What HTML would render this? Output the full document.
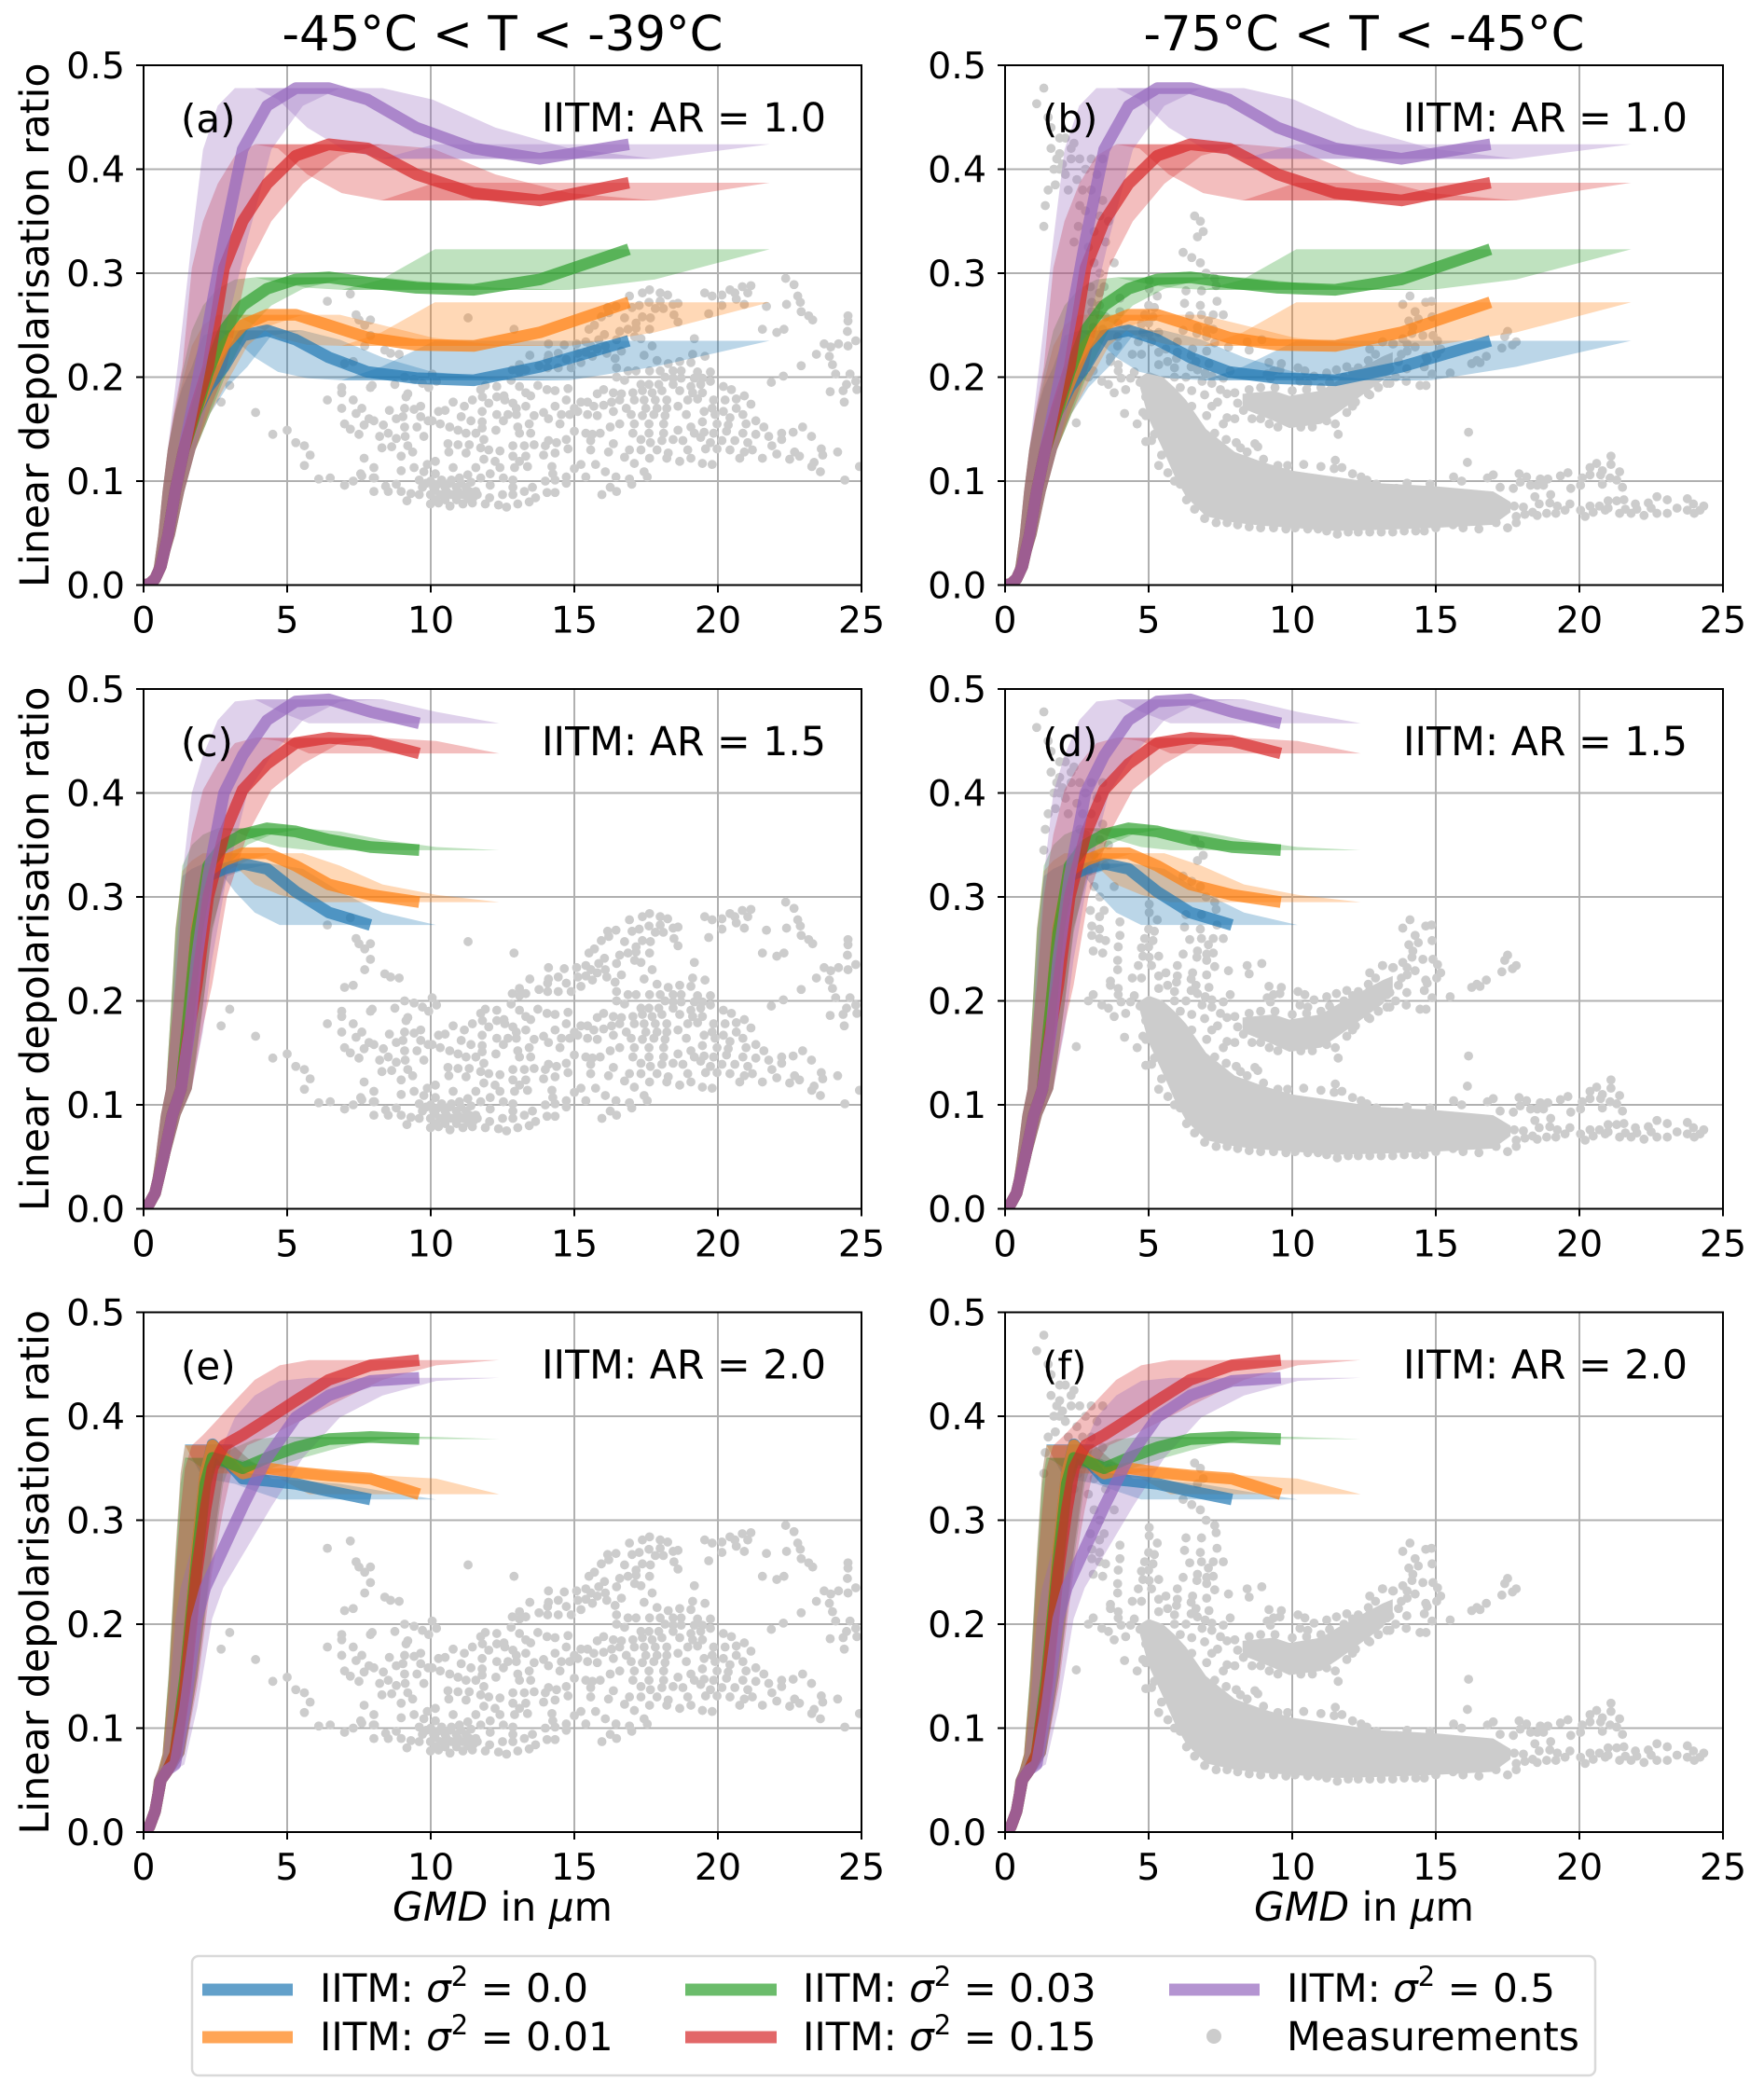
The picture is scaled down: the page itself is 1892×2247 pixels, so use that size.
<!DOCTYPE html>
<html>
<head>
<meta charset="utf-8">
<title>Linear depolarisation ratio versus GMD</title>
<style>
html,body{margin:0;padding:0;background:#fff}
svg{display:block}
text{font-family:"DejaVu Sans","Liberation Sans",sans-serif;fill:#000}
</style>
</head>
<body>
<svg id="chart" xmlns="http://www.w3.org/2000/svg" width="1892" height="2247" viewBox="0 0 1892 2247">
<rect width="1892" height="2247" fill="#fff"/>
<g id="panels"></g>
<g>
<rect x="206" y="2098" width="1505" height="128" rx="7" fill="#fff" stroke="#d9d9d9" stroke-width="2.5"/>
<g><line x1="217" x2="314" y1="2134" y2="2134" stroke="#1f77b4" stroke-opacity=".7" stroke-width="13"/><text x="343" y="2147" font-size="42">IITM: <tspan font-style="italic">σ</tspan><tspan dy="-17" font-size="29">2</tspan><tspan dy="17"> = 0.0</tspan></text></g>
<g><line x1="217" x2="314" y1="2185" y2="2185" stroke="#ff7f0e" stroke-opacity=".7" stroke-width="13"/><text x="343" y="2199" font-size="42">IITM: <tspan font-style="italic">σ</tspan><tspan dy="-17" font-size="29">2</tspan><tspan dy="17"> = 0.01</tspan></text></g>
<g><line x1="735" x2="833" y1="2134" y2="2134" stroke="#2ca02c" stroke-opacity=".7" stroke-width="13"/><text x="861" y="2147" font-size="42">IITM: <tspan font-style="italic">σ</tspan><tspan dy="-17" font-size="29">2</tspan><tspan dy="17"> = 0.03</tspan></text></g>
<g><line x1="735" x2="833" y1="2185" y2="2185" stroke="#d62728" stroke-opacity=".7" stroke-width="13"/><text x="861" y="2199" font-size="42">IITM: <tspan font-style="italic">σ</tspan><tspan dy="-17" font-size="29">2</tspan><tspan dy="17"> = 0.15</tspan></text></g>
<g><line x1="1254" x2="1351" y1="2134" y2="2134" stroke="#9467bd" stroke-opacity=".7" stroke-width="13"/><text x="1380" y="2147" font-size="42">IITM: <tspan font-style="italic">σ</tspan><tspan dy="-17" font-size="29">2</tspan><tspan dy="17"> = 0.5</tspan></text></g>
<g><circle cx="1302" cy="2184" r="8" fill="#cccccc"/><text x="1380" y="2199" font-size="42.5">Measurements</text></g>
</g>
</svg>
<script>
// ---- tick labels ----
const xTickValues = [0, 5, 10, 15, 20, 25];
const yTickValues = [0, 0.1, 0.2, 0.3, 0.4, 0.5];
const yTickLabels = ["0.0", "0.1", "0.2", "0.3", "0.4", "0.5"];
const columnTitles = ["-45°C < T < -39°C", "-75°C < T < -45°C"];
const panelLetters = ["(a)", "(b)", "(c)", "(d)", "(e)", "(f)"];
const arLabels = ["IITM: AR = 1.0", "IITM: AR = 1.5", "IITM: AR = 2.0"];
const seriesNames = ["sigma-0-0", "sigma-0-01", "sigma-0-03", "sigma-0-15", "sigma-0-5"];

// ---- modelled curves: GMD grids ----
const gmdAr10 = [0, .2, .4, .6, .85, 1.1, 1.4, 1.8, 2.25, 2.8, 3.45, 4.3, 5.3, 6.45, 7.8, 9.5, 11.5, 13.8, 16.9];
const gmdAr15 = [0, .2, .4, .7, 1.0, 1.3, 1.6, 1.85, 2.25, 2.8, 3.45, 4.3, 5.3, 6.45, 7.9, 9.6];
const gmdAr20 = [0, .2, .4, .6, .85, 1.1, 1.45, 1.85, 2.15, 2.4, 2.8, 3.45, 4.3, 5.3, 6.45, 7.9, 9.6];

// ---- AR 1.0 ----
const ar10Blue = [0, .001, .006, .018, .048, .09, .13, .165, .19, .21, .24, .245, .236, .219, .205, .199, .197, .21, .235];
const ar10Orange = [0, .001, .006, .018, .048, .09, .13, .165, .195, .23, .25, .26, .26, .25, .238, .231, .23, .243, .272];
const ar10Green = [0, .001, .006, .018, .048, .09, .13, .165, .205, .245, .269, .285, .294, .296, .291, .286, .284, .294, .323];
const ar10Red = [0, .001, .006, .018, .048, .09, .13, .17, .21, .305, .35, .386, .413, .424, .42, .395, .377, .37, .387];
const ar10Purple = [0, .001, .006, .018, .048, .09, .13, .185, .25, .332, .419, .461, .478, .478, .467, .44, .42, .41, .424];

// ---- AR 1.5 ----
const ar15Blue = [0, .005, .015, .05, .09, .115, .195, .27, .32, .327, .332, .327, .305, .285, .273];
const ar15Orange = [0, .005, .015, .05, .09, .115, .195, .27, .325, .335, .342, .342, .33, .312, .302, .295];
const ar15Green = [0, .005, .015, .05, .09, .115, .195, .265, .33, .35, .36, .366, .363, .355, .348, .345];
const ar15Red = [0, .005, .015, .05, .09, .115, .175, .215, .3, .36, .403, .428, .448, .453, .45, .438];
const ar15Purple = [0, .005, .015, .05, .09, .115, .17, .24, .32, .4, .436, .47, .488, .49, .478, .467];

// ---- AR 2.0 ----
const ar20Blue = [0, .005, .02, .05, .06, .075, .15, .27, .345, .373, .36, .34, .338, .335, .328, .32];
const ar20Orange = [0, .005, .02, .05, .06, .075, .15, .27, .345, .372, .36, .345, .35, .346, .343, .34, .325];
const ar20Green = [0, .005, .02, .05, .06, .075, .15, .26, .335, .36, .357, .35, .36, .37, .378, .38, .378];
const ar20Red = [0, .005, .02, .05, .06, .075, .14, .25, .31, .35, .372, .382, .397, .415, .435, .449, .454];
const ar20Purple = [0, .005, .02, .05, .06, .065, .12, .205, .235, .25, .274, .313, .36, .399, .42, .434, .437];

// ---- shaded uncertainty factors on GMD ----
const shadeLowFactor = [0.6];
const shadeHighFactor = [1.29];

// ---- measurements, -45 to -39 C ---- [GMD, depolarisation]
const measLeft = [
[2.7,.176],[3,.192],[3.9,.166],[4.5,.145],[5,.149],[5.3,.137],[5.6,.134],[5.8,.125],[5.6,.115],[6.1,.102],[6.5,.103],[7,.096],[7.3,.1],[7.6,.105],[8,.103],
[6.4,.273],[7.2,.28],[7.4,.26],[7.5,.255],[7.7,.25],[7.9,.255],[7.9,.24],[7.7,.23],[8.4,.226],[8.6,.223],[8.9,.222],[7,.213],[7.3,.215],[6.9,.19],[6.9,.185],[7.9,.19],[6.4,.178],[6.9,.17],[7.3,.178],[7.4,.165],[7.6,.17],[7,.155],[7.2,.15],[7.5,.145],[11.3,.257],[12.9,.246],
[16.92,.278],[17.37,.281],[17.62,.284],[17.99,.281],[18.25,.279],[17.99,.273],[17.6,.272],[17.26,.269],[17.01,.267],[18.61,.271],[18.44,.27],[17.82,.266],[18.1,.266],[16.45,.268],[16.16,.267],[16.2,.262],[15.94,.258],[16.75,.257],[17.37,.258],[17.65,.257],[18.47,.26],[18.61,.253],[17.15,.252],[15.7,.25],[15.51,.246],[16.58,.244],[16.87,.246],[17.15,.247],[17.62,.246],[17.1,.239],[17.32,.237],[19.18,.237],[16.05,.241],[16.47,.236],[15.85,.236],[15.4,.234],[14.1,.232],[14.65,.231],[15.08,.232],[15.58,.23],[15.8,.227],[16.08,.23],[15.4,.224],[15.12,.223],[15.63,.22],[16.13,.223],[14.44,.223],[14.1,.221],[14.72,.217],[14.07,.217],[13.45,.221],[15.23,.214],[14.89,.209],[14.44,.209],[14.07,.209],[13.77,.211],[13.09,.212],[12.84,.207],[13.31,.207],[13.09,.205],[12.8,.197],[17.71,.23],[17.43,.221],[16.64,.225],[16.42,.218],[19.12,.222],[19.55,.22],[17.88,.216],[18.67,.215],[19.06,.214],[18.27,.213],[16.47,.209],
[19.54,.281],[19.8,.278],[20.14,.279],[20.42,.284],[20.59,.281],[20.85,.287],[21.15,.288],[21.04,.281],[20.64,.275],[20.14,.269],[20.92,.27],[19.68,.261],[21.69,.268],[22.36,.295],[22.65,.289],[22.78,.278],[22.87,.272],[22.39,.27],[22.9,.263],[23.16,.259],[23.3,.255],[21.55,.246],[22.05,.243],[22.3,.246],[24.53,.259],[24.53,.254],[24.51,.244],[23.7,.232],[23.93,.229],[24.2,.232],[24.53,.23],[24.8,.235],[23.43,.222],[23.88,.22],[23.99,.212],[22.9,.211],[24.1,.203],[24.6,.203],[24.8,.196],[24.48,.193],[23.91,.186],[24.36,.187],[24.84,.188],[24.4,.176],[22.28,.201],[21.86,.195],
[16.87,.206],[17.15,.206],[17.62,.206],[17.99,.206],[18.44,.206],[18.72,.206],[19.29,.205],[19.74,.205],[16.47,.2],[16.75,.197],[18.16,.2],[18.44,.199],[18.72,.199],[19.18,.199],[19.46,.199],[19.74,.196],[17.32,.193],[17.6,.193],[17.94,.193],[18.44,.193],[19.06,.191],[19.4,.193],
[17.04,.185],[17.37,.187],[17.71,.185],[18.05,.187],[18.67,.187],[19.12,.185],[19.46,.185],[20.19,.191],[20.47,.188],[20.92,.182],[17.09,.178],[17.43,.178],[17.82,.178],[18.22,.178],[18.95,.178],[19.29,.179],[19.85,.178],[20.25,.178],[20.64,.179],
[15.8,.184],[16.02,.188],[16.36,.185],[16.64,.184],[17.49,.17],[17.88,.17],[18.22,.17],[18.61,.172],[19.8,.17],[20.19,.167],[20.64,.17],[21.15,.174],
[15,.17],[15.23,.176],[15.46,.176],[15.68,.172],[16.02,.173],[16.3,.176],[16.58,.178],[16.81,.17],[16.98,.164],[17.37,.163],[17.77,.164],[18.16,.163],[18.9,.164],[19.52,.167],[19.9,.164],[20.42,.161],[20.87,.164],
[14.55,.164],[14.84,.164],[15.12,.167],[15.46,.164],[15.8,.163],[16.36,.167],[16.58,.155],[16.25,.152],[17.09,.155],[17.6,.155],[18.11,.155],[18.61,.149],[19.06,.152],[19.46,.157],[19.97,.155],[20.36,.154],[20.98,.155],[21.32,.158],
[14.5,.155],[15,.148],[15.4,.146],[15.63,.145],[15.9,.146],[17.04,.146],[17.6,.146],[18.11,.146],[19.18,.146],[19.52,.147],[19.85,.146],[20.3,.148],[20.87,.146],[21.6,.152],[21.32,.145],[21.77,.143],[22.22,.146],[22.62,.147],[22.95,.152],[23.26,.143],
[14.1,.139],[14.38,.137],[14.72,.14],[15.57,.139],[16.36,.136],[17.32,.14],[17.65,.137],[18.05,.139],[18.44,.14],[18.78,.139],[19.4,.142],[19.74,.137],[20.14,.139],[20.59,.139],[21.04,.137],[22.22,.14],
[13.99,.134],[14.78,.131],[15.57,.13],[16.19,.128],[16.92,.13],[17.32,.13],[17.88,.13],[18.27,.127],[18.95,.13],[19.57,.131],[19.97,.131],[20.42,.13],[20.92,.128],[21.2,.13],[21.88,.134],[22.05,.126],[22.67,.128],[22.84,.124],[22.5,.121],[23.6,.131],[23.65,.125],[24.17,.128],[21.55,.122],
[16.75,.123],[17.62,.122],[18.22,.122],[18.67,.119],[19.06,.122],[17.09,.117],[19.46,.117],[19.8,.116],[20.76,.122],[23.35,.118],[23.27,.114],[23.57,.109],[24.42,.101],[24.93,.114],
[16.08,.109],[17.43,.109],[17.54,.104],[16.45,.104],[16.92,.102],[17,.097],[16.25,.094],[16.47,.09],[15.96,.087],[15.74,.116],[15.23,.116],[15,.112],[14.22,.114],[14.25,.107],[15.4,.104],[14.72,.104],[13.99,.1],[14.33,.101],[14.72,.098],[14.33,.089],[14.05,.089],[13.65,.084],[13.43,.08],[13.03,.078],[12.64,.075],[12.36,.077],[11.9,.078],[12.05,.084],[12.5,.087],[12.86,.087],[13.26,.09],[13.54,.094],
[12.3,.191],[11.9,.192],[11.74,.188],[13.09,.191],[13.73,.192],[14.05,.188],[14.33,.187],[14.78,.189],[14.72,.178],[14.33,.172],[11.45,.178],[11.8,.181],[12.02,.175],[12.3,.181],[12.55,.182],[12.86,.175],[13.31,.185],[13.48,.182],[13.31,.172],[12.98,.17],[12.58,.178],[13.93,.166],[13.6,.163],[14.1,.16],[12.3,.164],[12.69,.164],[12.53,.158],[12.98,.164],[13.43,.155],[13.03,.152],[11.79,.167],[11.17,.172],[10.78,.176],[11.06,.162],[11.4,.158],[11.79,.157],[11.79,.151],[12.27,.149],[11.57,.146],[11.23,.146],[13.09,.146],[13.48,.146],
[10.95,.149],[10.66,.152],[10.33,.155],[10.05,.158],[10.27,.167],[10.5,.168],[9.65,.172],[9.42,.169],[9.09,.17],[9.03,.162],[8.8,.16],[9.65,.162],[9.91,.158],
[9.09,.2],[9.42,.198],[9.71,.194],[9.93,.19],[10.05,.203],[10.2,.196],[8.75,.193],[7.96,.192],[9.14,.181],[9.2,.184],
[8.56,.168],[9.09,.152],[9.52,.152],[8.52,.146],[8.22,.143],[8.8,.141],[9.11,.143],[9.76,.143],[8.35,.154],[7.68,.154],[7.85,.16],[8.02,.158],[8.3,.132],[8.64,.133],[9.2,.134],[9.37,.128],[8.97,.124],[7.68,.122],[8.02,.113],[8.97,.11],[7.56,.107],[8.04,.103],
[10.6,.136],[10.95,.135],[11.34,.135],[10.63,.128],[11.23,.127],[11.85,.14],[11.74,.132],[12.02,.13],[12.41,.129],[12.86,.134],[13.26,.134],[13.6,.135],[13.93,.125],[14.33,.127],[12.86,.124],[13.31,.124],[11.85,.121],[12.24,.119],[13.09,.119],[11.57,.113],[12.41,.113],[12.92,.113],[13.37,.114],[12.07,.107],[11.74,.103],[12.53,.103],[12.86,.101],[12.07,.096],[12.86,.094],
[10.16,.119],[9.88,.116],[9.42,.113],[9.76,.109],[10.16,.107],[10.78,.113],[11.29,.106],[9.6,.101],[10,.1],[10.38,.101],[10.72,.101],[11,.103],[11.4,.099],[9.71,.094],[10.1,.094],[10.5,.094],[10.89,.094],[11.23,.094],[11.57,.09],[9.99,.087],[10.33,.087],[10.72,.087],[11.12,.087],[11.5,.085],[9.99,.078],[10.27,.079],[10.67,.076],[11.12,.078],[11.45,.079],[9.6,.087],[9.31,.088],[8.97,.09],[8.52,.09],[9.17,.081],[8.02,.09],[8.43,.095],[8.8,.097],[11.62,.087],[10.15,.082],[10.5,.082],[10.9,.082],[11.3,.083],[10.15,.091],[10.55,.09],[10.95,.09],[11.35,.09],[9.85,.098],[10.25,.097],[10.65,.098],[11.05,.098]
];

// ---- measurements, -75 to -45 C: solid envelopes of the densest groups ----
const denseBandGmd = [4.7, 5, 5.5, 5.9, 6.3, 7, 8, 9, 10, 11.5, 13, 15, 17, 17.6];
const denseBandLow = [.19, .16, .13, .105, .085, .066, .06, .057, .055, .052, .053, .055, .058, .07];
const denseBandHigh = [.2, .205, .2, .19, .178, .15, .128, .118, .11, .104, .098, .095, .09, .08];
const upperBandGmd = [8.27, 9.35, 9.9, 11, 11.6, 12.4, 13.15, 13.5];
const upperBandLow = [.17, .158, .151, .155, .166, .182, .197, .21];
const upperBandHigh = [.184, .187, .182, .187, .197, .209, .22, .224];

// ---- measurements, -75 to -45 C ---- [GMD, depolarisation]
const measRight = [
[1.35,.478],[1.1,.463],[1.5,.45],[1.6,.44],[1.9,.43],[2.1,.43],[2.4,.425],[1.6,.42],[1.9,.415],[2.3,.41],[2.6,.41],[3,.41],[1.7,.40],[2.1,.395],[2.5,.39],[1.5,.38],[1.75,.385],[2.2,.38],[2.7,.38],[3,.38],[1.4,.365],[2.8,.36],[3.4,.37],[1.35,.345],[2.4,.33],[2.55,.345],[3.1,.34],[3.5,.33],[3.8,.31],[1.8,.41],[2.0,.405],[2.8,.4],[3.2,.395],[3.4,.41],[1.9,.4],[2.3,.42],[2.6,.365],[3.6,.35],[3.3,.355],[2.9,.325],[3.1,.31],[3.3,.3],
[2.97,.287],[3.29,.281],[3.45,.287],[3.02,.272],[3.29,.269],[3.02,.263],[3.29,.26],[3.5,.258],[3.07,.248],[3.4,.246],[4,.276],[4,.263],[3.94,.252],[3.92,.239],[3.92,.23],[3.67,.219],[3.67,.215],[3.94,.212],[3.94,.206],[4.43,.222],[4.75,.222],[4.64,.234],[3.07,.206],[2.9,.2],[3.37,.196],[3.6,.193],[3.8,.185],[4.2,.188],[4.04,.199],[4.37,.199],[2.48,.156],[4.16,.165],[4.6,.155],[4.8,.166],[4.9,.163],[4.9,.181],[4.9,.138],[5.1,.139],[4.5,.205],[4.7,.195],[4.9,.19],[5.02,.175],[5.1,.165],
[5.02,.293],[5.02,.285],[5.3,.278],[5,.269],[5.2,.267],[4.86,.26],[5.15,.258],[4.75,.251],[5,.252],[4.8,.243],[5.35,.243],[5.02,.242],[5.1,.234],[5.6,.227],[5.35,.224],[5.66,.215],[5.35,.212],[5.9,.209],
[6.3,.283],[6.84,.283],[7.35,.288],[6.25,.271],[6.8,.269],[7.38,.273],[6.43,.259],[6.84,.26],[7.25,.26],[7.6,.26],[7.08,.254],[6.7,.248],[7.25,.246],[7.02,.245],[6.2,.245],[6.68,.242],[7.02,.239],[7.3,.233],[6,.234],[6.53,.227],[7.02,.225],[7.78,.229],[6,.224],[6.48,.221],[5.97,.218],[6.65,.215],[7.1,.213],[6.48,.21],[6.7,.207],[6.97,.204],[7.2,.201],[7.84,.206],[7.6,.199],
[6.6,.355],[6.8,.35],[6.7,.335],[6.9,.34],[6.2,.32],[6.5,.315],[6.8,.31],[7,.3],[7.3,.295],[8.43,.234],[8.94,.236],[8.5,.226],
[9.19,.214],[9.62,.213],[9.35,.206],[9.57,.207],[9.13,.203],[9.24,.199],[10.2,.209],[10.44,.206],[10.76,.201],[10.27,.196],[10.54,.194],[11.2,.204],[11.54,.207],[11.9,.21],[13.14,.234],[13.5,.232],[12.7,.227],[12.9,.222],[12.65,.216],[12.3,.209],[13.3,.206],[13.6,.2],[13,.19],[13.3,.194],[12.65,.184],[12.2,.176],
[7.4,.176],[7.73,.184],[7.5,.188],[6.86,.196],[7.2,.194],[6.3,.2],[7.73,.161],[8,.16],[7.6,.155],[7.02,.163],[7.2,.172],[6.95,.183],[6.5,.187],[8.1,.175],[8.0,.185],[8.3,.168],[8.6,.16],[8.9,.16],[9.2,.155],[9.5,.152],[10.3,.152],[10.7,.152],[11.2,.158],[11.5,.155],[11.9,.166],[12.1,.172],[8.5,.188],[8.9,.19],[9.4,.19],[10,.187],[10.5,.188],[11,.19],[11.3,.195],[11.8,.2],[12.1,.205],[12.7,.21],
[14.1,.278],[13.85,.27],[14.65,.272],[14.85,.273],[14.28,.263],[14.87,.258],[14.39,.256],[14.06,.254],[14.2,.248],[14.17,.242],[14.55,.24],[13.85,.237],[14.9,.24],[15.06,.235],[14,.232],[14.28,.229],[14,.225],[13.15,.234],[13.52,.232],[15.17,.227],[15.03,.222],[14.65,.22],[14.7,.217],[14.6,.21],[14.87,.203],[15.5,.204],[13.99,.208],[14.66,.192],[14.45,.192],[13.97,.196],[13.4,.194],[13,.19],[12.7,.183],[12.2,.176],[13.7,.215],[13.4,.208],[13.2,.215],[13.8,.222],
[16.25,.213],[16.43,.216],[16.54,.214],[16.76,.22],[17.3,.228],[17.4,.239],[17.5,.244],[17.67,.231],[17.8,.234],[16.14,.147],[16.1,.118],[11.6,.145],
[17,.106],[16.8,.103],[15.62,.104],[15.9,.1],[14.8,.097],[14,.098],[13.63,.093],[12.93,.097],[17.24,.094],[17.7,.093],[17.9,.107],[18.16,.104],[17.94,.099],[18.3,.096],[18.64,.102],[18.9,.102],[18.53,.096],[18.75,.096],[19.34,.105],[19.6,.108],[19.7,.093],[20.1,.103],[20.04,.096],[20.37,.106],[20.37,.113],[20.6,.117],[20.8,.11],[21.1,.124],[21.1,.116],[21.4,.109],[20.74,.106],[20.8,.097],[21.07,.103],[21.3,.101],[21.5,.094],
[17.5,.055],[17.8,.06],[17.8,.066],[18.05,.075],[17.73,.076],[18.45,.085],[19,.087],[18.6,.078],[18.37,.07],[18.53,.067],[18.86,.069],[18.97,.079],[19.23,.076],[19.18,.069],[19.5,.072],[19.67,.078],[20.04,.072],[20.2,.066],[20.37,.076],[20.48,.07],[20.7,.076],[20.9,.072],[21,.081],[21.3,.081],[21.55,.082],[21.4,.069],[21.6,.073],[21.8,.069],[22,.073],[22.25,.067],[22.4,.079],[22.7,.085],[22.7,.069],[23.06,.082],[23.06,.069],[23.4,.074],[23.76,.083],[23.76,.072],[23.97,.078],[24,.069],[24.33,.076],[24.2,.072],[18.1,.068],[21,.074],[21.95,.078],[22.5,.074],
[5.67,.133],[5.35,.115],[8.05,.137],[8.7,.136],[8.8,.133],[8.43,.128],[9,.121],[9.5,.115],[9.84,.115],[10.4,.116],[11,.114],[11.5,.12],[11.73,.113],[11.46,.112],[12.1,.107],[12.4,.104],[12.6,.101],[12.92,.097],[7.3,.146],[7.7,.14],[8.2,.132],[5.9,.2],[6.1,.19],[6.5,.172],
[5.67,.108],[6.1,.097],[6.32,.082],[6.6,.073],[6.95,.064],[7.35,.06],[7.73,.06],[8.1,.058],[8.5,.056],[8.9,.055],[9.35,.055],[9.78,.054],[10.1,.055],[10.54,.054],[10.9,.054],[11.2,.052],[11.57,.049],[11.95,.051],[12.3,.051],[12.7,.051],[13.1,.051],[13.5,.051],[13.9,.052],[14.3,.052],[14.6,.052],[15,.055],[15.6,.058],[15.95,.055],[16.5,.054],[17.1,.06],[5.2,.145],[5.45,.125],[5.9,.1]
];

// ---- layout (not data) ----
const axW = 770, axH = 557.5;
const colLeft = [154, 1078];
const rowTop = [70, 739, 1407.5];
const NS = "http://www.w3.org/2000/svg";
const root = document.getElementById("panels");

function mk(tag, attrs, parent, txt) {
  const n = document.createElementNS(NS, tag);
  for (const k in attrs) n.setAttribute(k, attrs[k]);
  if (txt !== undefined) n.textContent = txt;
  parent.appendChild(n);
  return n;
}

// Shade split into runs of monotonic y, so folded parts overlap and darken
function shadeRuns(vals) {
  const runs = [];
  let start = 0, dir = 0;
  for (let i = 1; i < vals.length; i++) {
    const d = Math.sign(vals[i] - vals[i - 1]);
    if (d !== 0) {
      if (dir !== 0 && d !== dir) { runs.push([start, i - 1]); start = i - 1; }
      dir = d;
    }
  }
  runs.push([start, vals.length - 1]);
  return runs;
}

const seriesColors = ["#1f77b4", "#ff7f0e", "#2ca02c", "#d62728", "#9467bd"];
const arSets = [
  { gmd: gmdAr10, series: [ar10Blue, ar10Orange, ar10Green, ar10Red, ar10Purple] },
  { gmd: gmdAr15, series: [ar15Blue, ar15Orange, ar15Green, ar15Red, ar15Purple] },
  { gmd: gmdAr20, series: [ar20Blue, ar20Orange, ar20Green, ar20Red, ar20Purple] }
];

for (let row = 0; row < 3; row++) {
  for (let col = 0; col < 2; col++) {
    const left = colLeft[col], top = rowTop[row], bottom = top + axH;
    const X = v => left + v / 25 * axW;
    const Y = v => bottom - v / 0.5 * axH;
    const idx = row * 2 + col;

    const panel = mk("g", {}, root);
    
    

    const clipId = "clip" + idx;
    const defs = mk("defs", {}, panel);
    const cp = mk("clipPath", { id: clipId }, defs);
    mk("rect", { x: left, y: top, width: axW, height: axH }, cp);

    // grid
    const grid = mk("g", { stroke: "#b0b0b0", "stroke-width": 2 }, panel);
    
    
    xTickValues.forEach(v => {
      const l = mk("line", { x1: X(v), x2: X(v), y1: top, y2: bottom }, grid);
      
      
    });
    yTickValues.forEach(v => {
      const l = mk("line", { x1: left, x2: left + axW, y1: Y(v), y2: Y(v) }, grid);
      
      
    });

    const plot = mk("g", { "clip-path": "url(#" + clipId + ")" }, panel);
    
    

    // measurements
    const pts = mk("g", { fill: "#cccccc" }, plot);
    
    
    if (col === 1) {
      const up = denseBandGmd.map((g, i) => X(g) + "," + Y(denseBandHigh[i]));
      const dn = denseBandGmd.map((g, i) => X(g) + "," + Y(denseBandLow[i])).reverse();
      const band = mk("polygon", { points: up.concat(dn).join(" ") }, pts);
      
      
      const up2 = upperBandGmd.map((g, i) => X(g) + "," + Y(upperBandHigh[i]));
      const dn2 = upperBandGmd.map((g, i) => X(g) + "," + Y(upperBandLow[i])).reverse();
      const band2 = mk("polygon", { points: up2.concat(dn2).join(" ") }, pts);
      
      
    }
    (col === 0 ? measLeft : measRight).forEach(p => {
      const c = mk("circle", { cx: X(p[0]), cy: Y(p[1]), r: 4.9 }, pts);
      
      
    });

    // shades, then lines
    const set = arSets[row];
    set.series.forEach((vals, s) => {
      const gmd = set.gmd;
      shadeRuns(vals).forEach(run => {
        const a = [], b = [];
        for (let i = run[0]; i <= run[1]; i++) {
          a.push(X(gmd[i] * shadeHighFactor[0]) + "," + Y(vals[i]));
          b.push(X(gmd[i] * shadeLowFactor[0]) + "," + Y(vals[i]));
        }
        const poly = mk("polygon", { points: a.concat(b.reverse()).join(" "), fill: seriesColors[s], "fill-opacity": 0.3 }, plot);
        
        
      });
    });
    set.series.forEach((vals, s) => {
      const gmd = set.gmd;
      const pl = mk("polyline", {
        points: vals.map((v, i) => X(gmd[i]) + "," + Y(v)).join(" "),
        fill: "none", stroke: seriesColors[s], "stroke-opacity": 0.7, "stroke-width": 12.5,
        "stroke-linejoin": "round", "stroke-linecap": "butt"
      }, plot);
      
      
    });

    // spines
    const frame = mk("rect", { x: left, y: top, width: axW, height: axH, fill: "none", stroke: "#000", "stroke-width": 2 }, panel);
    
    

    // ticks and tick labels
    xTickValues.forEach(v => {
      const t = mk("line", { x1: X(v), x2: X(v), y1: bottom, y2: bottom + 8, stroke: "#000", "stroke-width": 2 }, panel);
      
      
      const lb = mk("text", { x: X(v), y: bottom + 51, "font-size": 39.5, "text-anchor": "middle" }, panel, String(v));
      
      
    });
    yTickValues.forEach((v, i) => {
      const t = mk("line", { x1: left - 8, x2: left, y1: Y(v), y2: Y(v), stroke: "#000", "stroke-width": 2 }, panel);
      
      
      const lb = mk("text", { x: left - 20, y: Y(v) + 14, "font-size": 39.5, "text-anchor": "end" }, panel, yTickLabels[i]);
      
      
    });

    // annotations
    const letter = mk("text", { x: left + 40, y: top + 72, "font-size": 42 }, panel, panelLetters[idx]);
    
    
    const ar = mk("text", { x: left + 427, y: top + 71, "font-size": 42.6 }, panel, arLabels[row]);
    
    

    if (row === 0) {
      const ttl = mk("text", { x: left + axW / 2, y: 54, "font-size": 51.3, "text-anchor": "middle" }, panel, columnTitles[col]);
      
      
    }
    if (col === 0) {
      const cy = top + axH / 2;
      const yl = mk("text", { x: 0, y: 0, "font-size": 42.7, "text-anchor": "middle", transform: "translate(52 " + cy + ") rotate(-90)" }, panel, "Linear depolarisation ratio");
      
      
    }
    if (row === 2) {
      const xl = mk("text", { x: left + axW / 2, y: 2060, "font-size": 42.4, "text-anchor": "middle" }, panel);
      
      
      mk("tspan", { "font-style": "italic" }, xl, "GMD");
      mk("tspan", {}, xl, " in ");
      mk("tspan", { "font-style": "italic" }, xl, "µ");
      mk("tspan", {}, xl, "m");
    }
  }
}
</script>
</body>
</html>
